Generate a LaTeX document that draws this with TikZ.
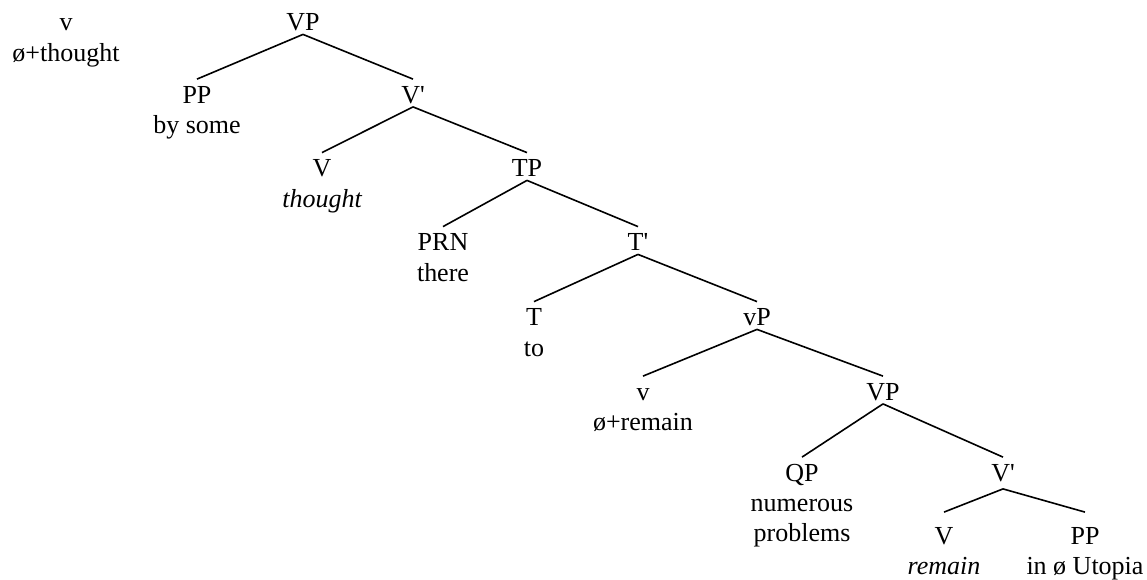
\documentclass[tikz,border=0pt]{standalone}
\usepackage{fontspec}
\setmainfont{Liberation Serif}
\usetikzlibrary{positioning}

\tikzset{
  cat/.style={inner sep=1.75pt, text height=10pt, text depth=0pt},
  word/.style={inner sep=0pt, align=center},
  branch/.style={line width=0.8pt}
}

\begin{document}
\begin{tikzpicture}[x=0.5pt,y=-0.5pt,font=\fontsize{13}{15}\selectfont]
\useasboundingbox (0,0) rectangle (1147,579);

% moved head
\node[cat] (vhi) at (66,20.5) {v};
\node[word, below=2.75pt of vhi] (vhiw) {\strut ø+thought};

% upper VP
\node[cat] (vpa) at (303,20.5) {VP};
\node[cat] (ppa) at (197,93) {PP};
\node[word, below=2.75pt of ppa] (ppaw) {\strut by some};
\node[cat] (vba) at (413,93) {V\textquotesingle};
\node[cat] (va) at (322,166.5) {V};
\node[word, below=2.75pt of va] (vaw) {\strut\itshape thought};

% TP
\node[cat] (tp) at (527,166.5) {TP};
\node[cat] (prn) at (443,240.5) {PRN};
\node[word, below=2.75pt of prn] (prnw) {\strut there};
\node[cat] (tbar) at (638,240.5) {T\textquotesingle};
\node[cat] (t) at (534,315.5) {T};
\node[word, below=2.75pt of t] (tw) {\strut to};

% vP
\node[cat] (vsp) at (757,315.5) {vP};
\node[cat] (vlo) at (643,390) {v};
\node[word, below=2.75pt of vlo] (vlow) {\strut ø+remain};

% lower VP
\node[cat] (vpb) at (883,390) {VP};
\node[cat] (qp) at (802,471) {QP};
\node[word, below=2.75pt of qp] (qpw) {\strut numerous\\problems};
\node[cat] (vbb) at (1003,471) {V\textquotesingle};
\node[cat] (vb) at (944,534) {V};
\node[word, below=2.75pt of vb] (vbw) {\strut\itshape remain};
\node[cat] (ppb) at (1085,534) {PP};
\node[word, below=2.75pt of ppb] (ppbw) {\strut in ø Utopia};

\draw[branch] (vpa.south) -- (ppa.north);
\draw[branch] (vpa.south) -- (vba.north);
\draw[branch] (vba.south) -- (va.north);
\draw[branch] (vba.south) -- (tp.north);
\draw[branch] (tp.south) -- (prn.north);
\draw[branch] (tp.south) -- (tbar.north);
\draw[branch] (tbar.south) -- (t.north);
\draw[branch] (tbar.south) -- (vsp.north);
\draw[branch] (vsp.south) -- (vlo.north);
\draw[branch] (vsp.south) -- (vpb.north);
\draw[branch] (vpb.south) -- (qp.north);
\draw[branch] (vpb.south) -- (vbb.north);
\draw[branch] ([yshift=-2pt]vbb.south) -- ([yshift=4pt]vb.north);
\draw[branch] ([yshift=-2pt]vbb.south) -- ([yshift=4pt]ppb.north);
\end{tikzpicture}
\end{document}
